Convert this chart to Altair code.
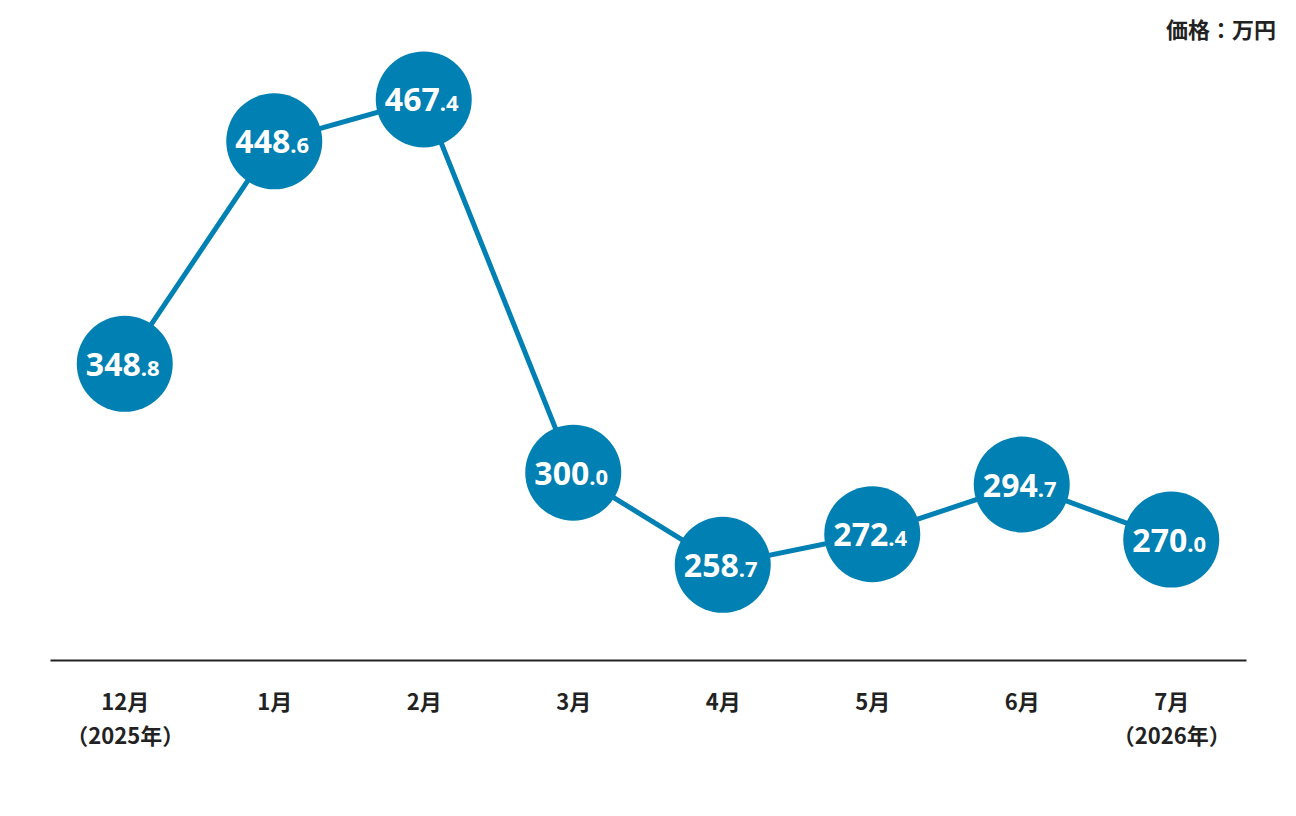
import altair as alt
import pandas as pd

months = ["12月\n（2025年）", "1月", "2月", "3月", "4月", "5月", "6月", "7月\n（2026年）"]
prices = [348.8, 448.6, 467.4, 300.0, 258.7, 272.4, 294.7, 270.0]
unit_label = "価格：万円"

COLOR = "#0080B3"
FONT = "Noto Sans CJK JP"
NUMFONT = "Noto Sans"

int_parts = [f"{v:.1f}".split(".")[0] for v in prices]
dec_parts = ["." + f"{v:.1f}".split(".")[1] for v in prices]
df = pd.DataFrame({"month": months, "price": prices, "ip": int_parts, "dp": dec_parts})

x = alt.X("month:O", sort=None, scale=alt.Scale(type="point", padding=0.5),
          axis=alt.Axis(title=None, labelAngle=0, ticks=False, domainColor="#222222",
                        domainWidth=2, labelFont=FONT, labelFontSize=22, labelFontWeight="bold",
                        labelColor="#222222", labelPadding=32, labelLineHeight=34,
                        labelExpr="split(datum.label, '\\n')", labelBaseline="top"))
y = alt.Y("price:Q", scale=alt.Scale(domain=[216, 503], nice=False, zero=False), axis=None)

base = alt.Chart(df).encode(x=x, y=y)

line = base.mark_line(color=COLOR, strokeWidth=5)
dots = base.mark_circle(color=COLOR, opacity=1, size=9216)
ints = base.mark_text(font=NUMFONT, fontWeight="bold", fontSize=32, color="white",
                      align="right", baseline="alphabetic", dx=16, dy=12).encode(text="ip:N")
decs = base.mark_text(font=NUMFONT, fontWeight="bold", fontSize=22, color="white",
                      align="left", baseline="alphabetic", dx=16, dy=12).encode(text="dp:N")

unit = alt.Chart(pd.DataFrame({"t": [unit_label]})).mark_text(
    font=FONT, fontWeight="bold", fontSize=22, color="#222222", align="right", baseline="middle"
).encode(x=alt.value(1226), y=alt.value(11), text="t:N")

chart = alt.layer(line, dots, ints, decs, unit).properties(
    width=1196, height=640,
    autosize=alt.AutoSizeParams(type="none"),
    padding={"left": 42, "top": 12, "right": 40, "bottom": 100},
).configure_view(stroke=None)

chart.save("out.html", embed_options={"renderer": "svg", "actions": False})
